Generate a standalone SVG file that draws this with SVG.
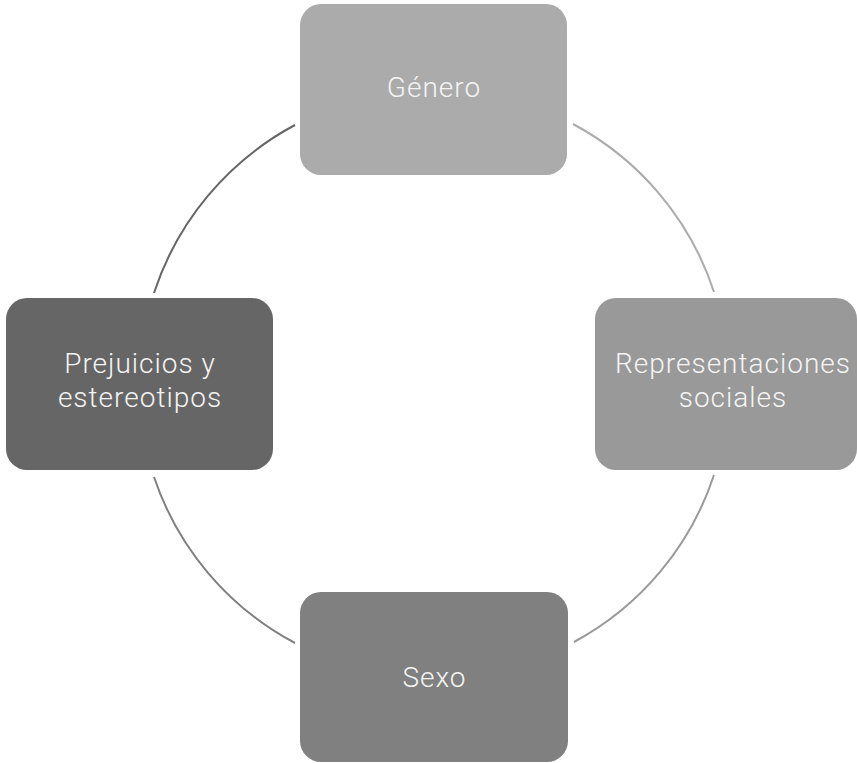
<svg xmlns="http://www.w3.org/2000/svg" width="857" height="763" viewBox="0 0 857 763">
<style>
.lbl{font-family:Roboto,"Noto Sans","Liberation Sans",sans-serif;font-weight:300;font-size:28px;letter-spacing:1px;fill:#f4f4f4;text-anchor:middle}
.arc{fill:none;stroke-width:2}
</style>
<rect width="857" height="763" fill="#ffffff"/>
<g id="connectors">
<path class="arc" stroke="#666666" d="M295,125 A294,294 0 0 0 154,293"/>
<path class="arc" stroke="#ababab" d="M573,124 A294,294 0 0 1 714,292"/>
<path class="arc" stroke="#999999" d="M714,475 A294,294 0 0 1 574,642"/>
<path class="arc" stroke="#808080" d="M154,477 A294,294 0 0 0 295,643"/>
</g>
<g id="genero">
<rect x="300" y="4" width="267" height="171" rx="21" fill="#ababab"/>
<text class="lbl" x="434" y="97">Género</text>
</g>
<g id="representaciones">
<rect x="595" y="298" width="262" height="172" rx="21" fill="#999999"/>
<text class="lbl" x="733" y="373">Representaciones</text>
<text class="lbl" x="733" y="407">sociales</text>
</g>
<g id="sexo">
<rect x="300" y="592" width="268" height="170" rx="21" fill="#808080"/>
<text class="lbl" x="434.5" y="687">Sexo</text>
</g>
<g id="prejuicios">
<rect x="6" y="298" width="267" height="172" rx="21" fill="#666666"/>
<text class="lbl" x="140" y="373">Prejuicios y</text>
<text class="lbl" x="140" y="407">estereotipos</text>
</g>
</svg>
